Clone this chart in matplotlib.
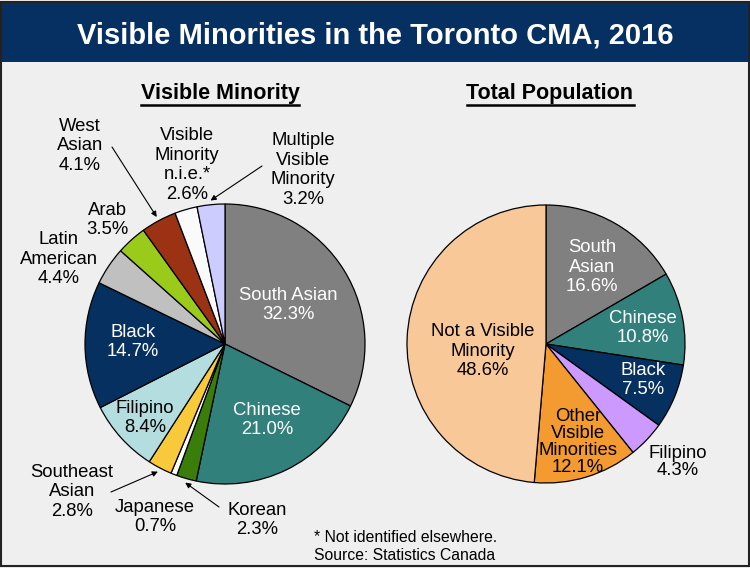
import matplotlib
matplotlib.use("Agg")
import matplotlib.pyplot as plt
import numpy as np
from matplotlib.patches import Rectangle

plt.rcParams['font.family'] = ['Liberation Sans', 'DejaVu Sans']

# ---- data ----
vm_labels = ["South Asian", "Chinese", "Korean", "Japanese", "Southeast Asian", "Filipino",
             "Black", "Latin American", "Arab", "West Asian", "Visible Minority n.i.e.*",
             "Multiple Visible Minority"]
vm_values = [32.3, 21.0, 2.3, 0.7, 2.8, 8.4, 14.7, 4.4, 3.5, 4.1, 2.6, 3.2]
vm_colors = ["#808080", "#31807c", "#3a7d0a", "#ffffff", "#f9c93c", "#b4dde0",
             "#06305f", "#c0c0c0", "#9acb1a", "#9c3214", "#fafafa", "#ccccff"]

tp_labels = ["South Asian", "Chinese", "Black", "Filipino", "Other Visible Minorities",
             "Not a Visible Minority"]
tp_values = [16.6, 10.8, 7.5, 4.3, 12.1, 48.6]
tp_colors = ["#808080", "#31807c", "#06305f", "#cc99ff", "#f39a30", "#f9c898"]

W, H = 750, 568
fig = plt.figure(figsize=(W / 100, H / 100), dpi=100)
fig.patch.set_facecolor("#efefef")


def fx(x):
    return x / W


def fy(y):
    return 1 - y / H


# title bar
fig.patches.append(Rectangle((0, fy(62)), 1, fy(3) - fy(62), transform=fig.transFigure,
                             facecolor="#063062", edgecolor="none", zorder=0))
fig.patches.append(Rectangle((0.001, 0.003), 0.997, 0.994, transform=fig.transFigure,
                             facecolor="none", edgecolor="#222222", linewidth=1.5, zorder=5))
fig.text(fx(375), fy(35), "Visible Minorities in the Toronto CMA, 2016", color="white",
         fontsize=21, fontweight="bold", ha="center", va="center")

for x, t in [(220, "Visible Minority"), (550, "Total Population")]:
    fig.text(fx(x), fy(94), t, fontsize=15.5, fontweight="bold", ha="center", va="center")

# underlines (measured via renderer)
fig.canvas.draw()
r = fig.canvas.get_renderer()
for txt in fig.texts[1:3]:
    bb = txt.get_window_extent(r)
    y0 = bb.y0 - 1
    fig.add_artist(plt.Line2D([bb.x0 / W, bb.x1 / W], [y0 / H, y0 / H], color="black",
                              linewidth=1.8, transform=fig.transFigure))


def pie_axes(cx, cy, rad):
    ax = fig.add_axes([fx(cx - rad), fy(cy + rad), 2 * rad / W, 2 * rad / H])
    return ax


wp = dict(edgecolor="black", linewidth=0.9)

ax1 = pie_axes(225, 344, 140)
w1, _ = ax1.pie(vm_values, colors=vm_colors, startangle=90, counterclock=False,
                wedgeprops=wp, radius=1)
ax1.set_xlim(-1, 1)
ax1.set_ylim(-1, 1)
ax1.set_aspect("equal")
ax1.axis("off")

ax2 = pie_axes(546, 344, 139)
w2, _ = ax2.pie(tp_values, colors=tp_colors, startangle=90, counterclock=False,
                wedgeprops=wp, radius=1)
ax2.set_xlim(-1, 1)
ax2.set_ylim(-1, 1)
ax2.set_aspect("equal")
ax2.axis("off")

FS = 13.3


def lab(x, y, s, color="black", ls=1.2):
    fig.text(fx(x), fy(y), s, fontsize=FS, color=color, ha="center", va="center",
             linespacing=ls)


def pct(v):
    return f"{v:.1f}%"


# left pie labels
lab(288, 305, "South Asian\n" + pct(vm_values[0]), "white")
lab(267, 420, "Chinese\n" + pct(vm_values[1]), "white")
lab(133, 342, "Black\n" + pct(vm_values[6]), "white")
lab(145, 418, "Filipino\n" + pct(vm_values[5]))
lab(72, 492, "Southeast\nAsian\n" + pct(vm_values[4]))
lab(155, 517, "Japanese\n" + pct(vm_values[3]))
lab(257, 520, "Korean\n" + pct(vm_values[2]))
lab(59, 259, "Latin\nAmerican\n" + pct(vm_values[7]))
lab(107, 220, "Arab\n" + pct(vm_values[8]))
lab(80, 146, "West\nAsian\n" + pct(vm_values[9]))
lab(187, 165, "Visible\nMinority\nn.i.e.*\n" + pct(vm_values[10]))
lab(303, 170, "Multiple\nVisible\nMinority\n" + pct(vm_values[11]))


def arrow_to(ax, wedge, start_px, rr=1.03):
    ang = np.deg2rad((wedge.theta1 + wedge.theta2) / 2)
    xy = (rr * np.cos(ang), rr * np.sin(ang))
    ax.annotate("", xy=xy, xycoords="data",
                xytext=(fx(start_px[0]), fy(start_px[1])), textcoords="figure fraction",
                arrowprops=dict(arrowstyle="-|>", color="black", lw=0.8,
                                mutation_scale=8, shrinkA=0, shrinkB=0),
                annotation_clip=False)


arrow_to(ax1, w1[9], (112, 147))
arrow_to(ax1, w1[11], (262, 166))
arrow_to(ax1, w1[4], (111, 492))
arrow_to(ax1, w1[2], (219, 507))

# right pie labels
lab(592, 267, "South\nAsian\n" + pct(tp_values[0]), "white")
lab(643, 328, "Chinese\n" + pct(tp_values[1]), "white")
lab(643, 380, "Black\n" + pct(tp_values[2]), "white")
lab(678, 462, "Filipino\n" + pct(tp_values[3]), ls=1.02)
lab(578, 442, "Other\nVisible\nMinorities\n" + pct(tp_values[4]), ls=0.98)
lab(483, 351, "Not a Visible\nMinority\n" + pct(tp_values[5]))

fig.text(fx(314), fy(547), "* Not identified elsewhere.\nSource: Statistics Canada",
         fontsize=11.3, ha="left", va="center", linespacing=1.25)

fig.savefig("out.png", dpi=100, facecolor=fig.get_facecolor())
